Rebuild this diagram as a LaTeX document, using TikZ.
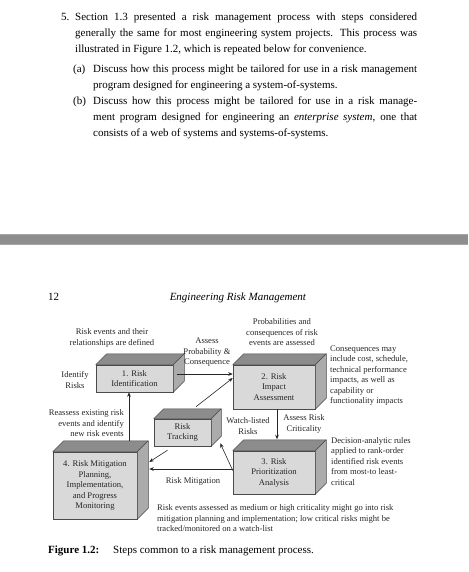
\documentclass[tikz,border=0pt]{standalone}
\usepackage{fontspec}
\setmainfont{Liberation Serif}
\usetikzlibrary{arrows.meta,calc}
\definecolor{frontc}{HTML}{D9D9D9}
\definecolor{topc}{HTML}{8C8C8C}
\definecolor{sidec}{HTML}{ABABAB}
\definecolor{edgec}{HTML}{4A4A4A}
\definecolor{barc}{HTML}{8E8E8E}
\definecolor{txtc}{HTML}{262626}
\newcommand{\figfont}{\fontsize{8.6}{10.5}\selectfont}
\newcommand{\qfont}{\fontsize{11}{16}\selectfont}
\newcommand{\cuboid}[2]{%
  \filldraw[fill=topc, draw=edgec, line width=0.5pt, line join=round] (#1.north west) -- ++(#2,-#2) -- ($(#1.north east)+(#2,-#2)$) -- (#1.north east) -- cycle;
  \filldraw[fill=sidec, draw=edgec, line width=0.5pt, line join=round] (#1.north east) -- ++(#2,-#2) -- ($(#1.south east)+(#2,-#2)$) -- (#1.south east) -- cycle;
}
\tikzset{
  face/.style={draw=edgec, line width=0.5pt, fill=frontc, inner sep=0pt, font=\figfont, align=center, text=txtc},
  lbl/.style={font=\figfont, text=txtc, inner sep=0pt},
  arr/.style={-{Stealth[length=4.5pt,width=3.6pt]}, line width=0.6pt, draw=black!85},
  qline/.style={font=\qfont, anchor=base west, inner sep=0pt}
}
\begin{document}
\begin{tikzpicture}[x=1pt,y=-1pt]
\useasboundingbox (0,0) rectangle (468,572);
% exercise text
\node[qline] (q5) at (61,21) {5.};
\node[qline] (q1) at (75,21) {\makebox[342pt][s]{Section 1.3 presented a risk management process with steps considered}};
\node[qline] (q2) at (75,37) {\makebox[342pt][s]{generally the same for most engineering system projects. This process was}};
\node[qline] (q3) at (75,53) {illustrated in Figure 1.2, which is repeated below for convenience.};
\node[qline] (qa) at (73,73) {(a)};
\node[qline] (qa1) at (93,73) {\makebox[324pt][s]{Discuss how this process might be tailored for use in a risk management}};
\node[qline] (qa2) at (93,89) {program designed for engineering a system-of-systems.};
\node[qline] (qb) at (73,105) {(b)};
\node[qline] (qb1) at (93,105) {\makebox[324pt][s]{Discuss how this process might be tailored for use in a risk manage-}};
\node[qline] (qb2) at (93,121) {\makebox[324pt][s]{ment program designed for engineering an \textit{enterprise system}, one that}};
\node[qline] (qb3) at (93,137) {consists of a web of systems and systems-of-systems.};
% page separator bar
\fill[barc] (0,234) rectangle (468,245);
\draw[black!35, line width=0.6pt] (0,234.3) -- (468,234.3);
\draw[black!35, line width=0.6pt] (0,244.7) -- (468,244.7);
% page header
\node[qline] (pg) at (48,300) {12};
\node[font=\qfont, anchor=base, inner sep=0pt] (hd) at (238,300) {\textit{Engineering Risk Management}};
% boxes
\node[face, minimum width=77pt, minimum height=27pt] (b1) at (134.5,378.5) {1. Risk\\Identification};
\cuboid{b1}{11}
\node[face, minimum width=82pt, minimum height=44pt] (b2) at (274,387) {2. Risk\\Impact\\Assessment};
\cuboid{b2}{11}
\node[face, minimum width=82pt, minimum height=43pt] (b3) at (274,472.5) {3. Risk\\Prioritization\\Analysis};
\cuboid{b3}{11}
\node[face, minimum width=84pt, minimum height=67pt] (b4) at (95,485.5) {4. Risk Mitigation\\Planning,\\Implementation,\\and Progress\\Monitoring};
\cuboid{b4}{11}
\node[face, minimum width=57pt, minimum height=27pt] (tr) at (182.5,432.5) {Risk\\Tracking};
\cuboid{tr}{10}
\coordinate (b4r) at ([xshift=12pt]b4.east);
\coordinate (b4top) at ([xshift=34pt,yshift=11pt]b4.north);
\coordinate (b2s) at ([xshift=3pt]b2.south);
\coordinate (b3top) at ([xshift=3pt,yshift=11.5pt]b3.north);
% labels
\node[lbl, align=center] (l1) at (112,338) {Risk events and their\\relationships are defined};
\node[lbl, align=center] (l2) at (282,332.5) {Probabilities and\\consequences of risk\\events are assessed};
\node[lbl, align=center] (l3) at (207,352.5) {Assess\\Probability \&\\Consequence};
\node[lbl, align=center] (l4) at (75,380) {Identify\\Risks};
\node[lbl, align=left, anchor=west] (l5) at (330,375.5) {Consequences may\\include cost, schedule,\\technical performance\\impacts, as well as\\capability or\\functionality impacts};
\node[lbl, align=right, anchor=east] (l6) at (124,423.5) {Reassess existing risk\\events and identify\\new risk events};
\node[lbl, align=center] (l7) at (248,426) {Watch-listed\\Risks};
\node[lbl, align=center] (l8) at (304,424) {Assess Risk\\Criticality};
\node[lbl, align=left, anchor=west] (l9) at (331,461.5) {Decision-analytic rules\\applied to rank-order\\identified risk events\\from most-to least-\\critical};
\node[lbl, align=center] (l10) at (193,481) {Risk Mitigation};
\node[lbl, align=left, anchor=west] (l11) at (157,518.5) {Risk events assessed as medium or high criticality might go into risk\\mitigation planning and implementation; low critical risks might be\\tracked/monitored on a watch-list};
% arrows
\draw[arr] ([xshift=4pt,yshift=4.5pt]b1.east) -- ([yshift=4.5pt]b1.east -| b2.west);
\draw[arr] ([xshift=13.5pt,yshift=12pt]tr.north) -- ([yshift=9pt]b2.west);
\draw[arr] (b2s) -- (b3top);
\draw[arr] ([yshift=3.5pt]b3.west) -- ([yshift=3.5pt]b3.west -| b4r);
\draw[arr] ([yshift=2pt]b3.west) -- ([xshift=9pt,yshift=3pt]tr.south east);
\draw[arr] ([xshift=-15pt,yshift=-4pt]tr.south) -- ([yshift=23.5pt]b4r);
\draw[arr] (b4top) -- (b4top |- b1.south);
% caption
\node[qline] (cap1) at (48,553) {\textbf{Figure 1.2:}};
\node[qline] (cap2) at (113,553) {Steps common to a risk management process.};
\end{tikzpicture}
\end{document}
